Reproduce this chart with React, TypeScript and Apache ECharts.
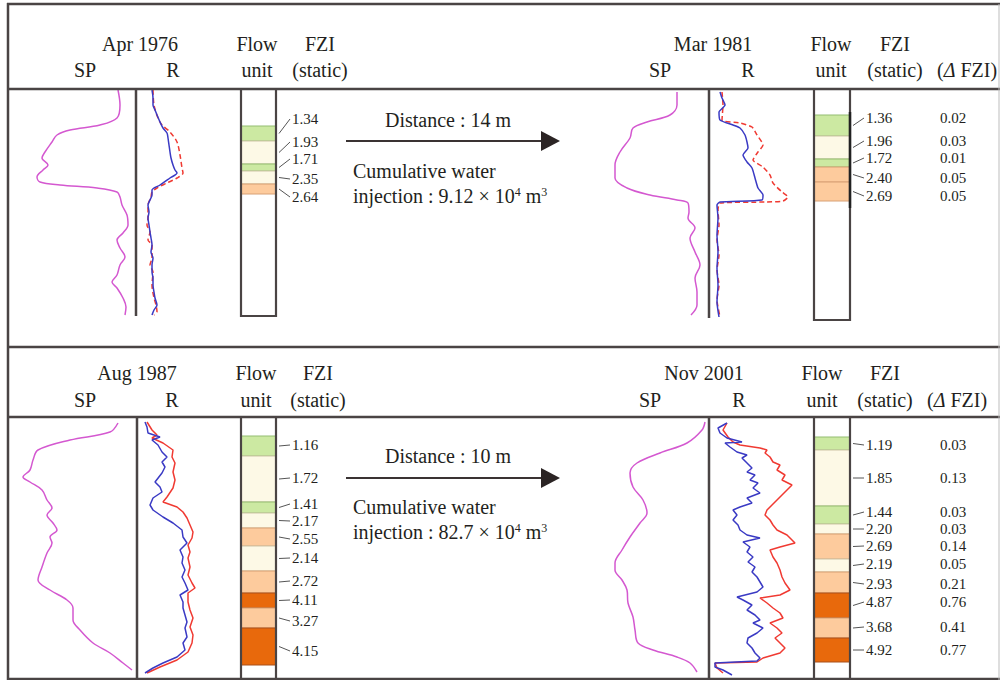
import React, { useEffect, useRef } from "react";
import * as echarts from "echarts";

// ---------------- data (depth, reading) pairs ----------------
// SP: deflection to the left of the track line; R: deflection to the right; depth: downwards
const spApr1976 = [[0,18],[15,16],[28,19],[35,36],[40,66],[45,79],[52,84],[62,91],[68,94],[75,88],[80,93],[87,99],[92,96],[95,76],[98,39],[102,19],[107,16],[115,14],[125,9],[135,8],[143,13],[150,19],[158,16],[167,11],[175,16],[185,19],[192,24],[198,19],[208,13],[217,10],[225,11]];
const rBlueApr1976 = [[0,16],[8,17],[15,17],[20,19],[25,21],[32,24],[38,27],[43,31],[48,32],[55,33],[62,34],[68,35],[75,37],[80,39],[83,41],[88,34],[95,24],[100,16],[105,16],[110,14],[115,12],[122,13],[128,12],[135,13],[142,14],[148,15],[155,16],[162,15],[168,17],[175,16],[182,16],[188,17],[195,17],[202,18],[208,19],[215,21],[220,18],[225,16]];
const rRedApr1976 = [[0,17],[15,18],[28,22],[35,26],[42,34],[52,41],[65,44],[78,46],[83,47],[88,41],[93,31],[98,21],[102,16],[107,15],[115,12],[128,12],[135,11],[142,14],[150,12],[155,16],[168,16],[175,14],[182,17],[195,16],[208,18],[215,20],[222,21],[225,18]];

const spMar1981 = [[2,32],[15,32],[25,39],[32,62],[38,76],[48,79],[62,89],[75,94],[88,94],[98,82],[105,59],[110,32],[113,21],[122,20],[128,21],[138,14],[148,19],[162,14],[175,9],[188,14],[202,12],[215,12],[225,18]];
const rBlueMar1981 = [[2,11],[8,13],[15,16],[22,10],[30,11],[35,24],[38,31],[45,36],[52,38],[58,39],[65,34],[72,38],[78,43],[88,46],[98,49],[105,54],[110,53],[112,11],[115,8],[128,9],[145,8],[162,9],[178,8],[195,9],[212,8],[227,10]];
const rRedMar1981 = [[2,13],[15,14],[30,13],[33,31],[37,43],[45,48],[55,54],[62,49],[70,44],[77,54],[85,61],[93,64],[102,73],[107,79],[111,74],[112,58],[113,11],[120,9],[135,10],[150,8],[165,10],[180,8],[195,10],[210,8],[227,11]];

const spAug1987 = [[6,19],[15,27],[23,67],[33,99],[43,104],[53,107],[60,114],[65,107],[73,95],[83,90],[91,85],[98,90],[106,84],[113,80],[120,87],[126,85],[136,90],[150,95],[163,99],[173,87],[183,70],[191,64],[203,64],[213,57],[226,44],[236,27],[246,14],[253,5]];
const rBlueAug1987 = [[5,8],[10,10],[16,11],[20,23],[23,15],[28,21],[35,25],[40,30],[45,25],[50,28],[56,25],[65,18],[70,23],[75,25],[81,16],[88,13],[93,16],[100,26],[106,36],[113,45],[120,46],[126,50],[133,43],[140,46],[146,45],[153,48],[160,45],[166,48],[173,51],[178,43],[185,46],[191,46],[198,48],[205,50],[211,48],[220,50],[226,46],[233,48],[240,40],[246,26],[251,16],[256,8]];
const rRedAug1987 = [[5,10],[13,15],[18,20],[21,15],[26,26],[33,36],[40,35],[46,38],[55,36],[63,38],[71,36],[80,30],[85,26],[90,40],[95,46],[101,50],[108,53],[115,56],[121,55],[128,51],[135,53],[141,51],[150,53],[158,51],[166,55],[171,58],[176,51],[185,51],[193,53],[201,56],[210,53],[218,56],[226,55],[235,51],[243,40],[250,23],[256,10]];

const spNov2001 = [[5,4],[13,7],[26,22],[36,49],[46,72],[56,79],[70,76],[83,66],[96,62],[106,69],[120,79],[133,87],[146,94],[153,94],[163,87],[173,82],[186,81],[200,76],[213,74],[226,71],[233,56],[240,32],[246,19],[255,12]];
const rBlueNov2001 = [[6,18],[11,9],[16,11],[21,18],[25,33],[26,16],[30,21],[35,28],[38,38],[41,33],[46,38],[51,43],[55,38],[58,46],[63,41],[66,49],[71,44],[76,51],[81,38],[86,43],[90,31],[93,24],[98,28],[103,24],[108,29],[113,31],[118,38],[121,51],[125,34],[130,41],[135,38],[140,44],[145,39],[150,46],[155,43],[160,48],[165,51],[170,54],[175,48],[180,28],[183,34],[188,43],[193,38],[198,46],[203,51],[206,44],[211,54],[216,48],[221,39],[226,38],[231,43],[236,46],[241,51],[244,48],[246,6],[250,6],[253,14],[258,23]];
const rRedNov2001 = [[6,18],[13,14],[20,19],[25,24],[28,31],[31,51],[33,58],[36,56],[40,61],[45,64],[48,71],[53,68],[58,76],[63,73],[68,83],[73,78],[78,73],[83,68],[88,63],[93,58],[98,56],[103,61],[108,64],[113,68],[118,78],[123,83],[126,86],[130,71],[133,61],[140,64],[146,68],[153,71],[160,73],[166,76],[173,81],[178,71],[181,51],[186,58],[191,64],[196,71],[201,74],[206,61],[211,68],[216,73],[221,66],[226,71],[231,76],[236,71],[241,54],[245,48],[246,6],[251,8],[256,14]];

// flow units: top depth, base depth, class, FZI (static), delta FZI
const unitTopApr1976 = [36, 51, 74, 81, 94];
const unitBaseApr1976 = [51, 74, 81, 94, 104];
const unitClassApr1976 = ["g", "c", "g", "c", "o"];
const fziApr1976 = ["1.34", "1.93", "1.71", "2.35", "2.64"];

const unitTopMar1981 = [25, 46, 69, 77, 92];
const unitBaseMar1981 = [46, 69, 77, 92, 111];
const unitClassMar1981 = ["g", "c", "g", "o", "o"];
const fziMar1981 = ["1.36", "1.96", "1.72", "2.40", "2.69"];
const dFziMar1981 = ["0.02", "0.03", "0.01", "0.05", "0.05"];

const unitTopAug1987 = [19, 39, 85, 96, 111, 129, 154, 176, 191, 211];
const unitBaseAug1987 = [39, 85, 96, 111, 129, 154, 176, 191, 211, 248];
const unitClassAug1987 = ["g", "c", "g", "c", "o", "c", "o", "d", "o", "d"];
const fziAug1987 = ["1.16", "1.72", "1.41", "2.17", "2.55", "2.14", "2.72", "4.11", "3.27", "4.15"];

const unitTopNov2001 = [20, 33, 89, 107, 117, 142, 155, 176, 201, 221];
const unitBaseNov2001 = [33, 89, 107, 117, 142, 155, 176, 201, 221, 245];
const unitClassNov2001 = ["g", "c", "g", "c", "o", "c", "o", "d", "o", "d"];
const fziNov2001 = ["1.19", "1.85", "1.44", "2.20", "2.69", "2.19", "2.93", "4.87", "3.68", "4.92"];
const dFziNov2001 = ["0.03", "0.13", "0.03", "0.03", "0.14", "0.05", "0.21", "0.76", "0.41", "0.77"];

// label anchor depths (layout of the annotation column)
const labelDepthApr1976 = [29, 52, 69, 89, 107];
const labelDepthMar1981 = [28, 51, 68, 88, 106];
const labelDepthAug1987 = [28, 61, 87, 104, 122, 141, 164, 183, 204, 234];
const labelDepthNov2001 = [28, 61, 95, 112, 129, 147, 167, 185, 210, 233];

// ---------------- styling ----------------
const FONT = "'Liberation Serif', 'DejaVu Serif', serif";
const INK = "#231f20";
const FRAME = "#4a4444";
const SP_COLOR = "#d458d0";
const BLUE = "#3a3ac4";
const RED = "#f03a32";
const NUM_SIZE = 15;
const UNIT_STYLE: Record<string, { fill: string; stroke: string }> = {
  g: { fill: "#cce9a2", stroke: "#93bd70" },
  c: { fill: "#fdf9e6", stroke: "#cfc6a6" },
  o: { fill: "#fdcb9d", stroke: "#d8a074" },
  d: { fill: "#e8690c", stroke: "#a9501a" },
};

function buildOption() {
  const grids: any[] = [];
  const xAxes: any[] = [];
  const yAxes: any[] = [];
  const series: any[] = [];
  const graphic: any[] = [];

  function addGrid(left: number, width: number, top: number, height: number, xmax: number, inverse: boolean) {
    const idx = grids.length;
    grids.push({ left, width, top, height, containLabel: false, show: false });
    xAxes.push({ type: "value", gridIndex: idx, min: 0, max: xmax, inverse, show: false });
    yAxes.push({ type: "value", gridIndex: idx, min: 0, max: height, inverse: true, show: false });
    return idx;
  }

  function addLine(g: number, pairs: number[][], color: string, dashed: boolean, smooth: number) {
    series.push({
      type: "line",
      xAxisIndex: g,
      yAxisIndex: g,
      data: pairs.map(([d, v]) => [v, d]),
      showSymbol: false,
      symbol: "none",
      smooth,
      clip: false,
      silent: true,
      lineStyle: { color, width: 1.5, type: dashed ? [5, 3] : "solid" },
    });
  }

  function txt(text: string, x: number, y: number, size: number, align = "center", extra: any = {}) {
    graphic.push({
      type: "text",
      x,
      y,
      z: 50,
      silent: true,
      style: {
        text,
        fontFamily: FONT,
        fontSize: size,
        fill: INK,
        align,
        textAlign: align,
        verticalAlign: "middle",
        textVerticalAlign: "middle",
        ...extra,
      },
    });
  }

  function hline(x1: number, x2: number, y: number, w = 2.5, color = FRAME) {
    graphic.push({ type: "line", z: 40, silent: true, shape: { x1, y1: y, x2, y2: y }, style: { stroke: color, lineWidth: w } });
  }
  function vline(x: number, y1: number, y2: number, w = 2.5, color = FRAME) {
    graphic.push({ type: "line", z: 40, silent: true, shape: { x1: x, y1, x2: x, y2 }, style: { stroke: color, lineWidth: w } });
  }

  function addPanel(p: any) {
    const spG = addGrid(p.spLeft, p.sep - p.spLeft, p.top, p.h, p.sep - p.spLeft, true);
    const rG = addGrid(p.sep, 100, p.top, p.h, 100, false);
    const fG = addGrid(p.colLeft, p.colW, p.top, p.h, 1, false);
    addLine(spG, p.sp, SP_COLOR, false, 0.35);
    addLine(rG, p.rRed, RED, p.dashed, p.smoothR);
    addLine(rG, p.rBlue, BLUE, false, p.smoothR);

    const tops = p.tops, bases = p.bases, cls = p.cls, fzi = p.fzi, ld = p.ld, dl = p.delta;
    series.push({
      type: "custom",
      xAxisIndex: fG,
      yAxisIndex: fG,
      clip: false,
      silent: true,
      z: 3,
      data: tops.map((t: number, i: number) => [t, bases[i], i]),
      renderItem: (_params: any, api: any) => {
        const i = api.value(2);
        const p0 = api.coord([0, api.value(0)]);
        const p1 = api.coord([1, api.value(1)]);
        const ly = api.coord([0, ld[i]])[1];
        const right = p1[0];
        const mid = (p0[1] + p1[1]) / 2;
        const st = UNIT_STYLE[cls[i]];
        const children: any[] = [
          {
            type: "rect",
            shape: { x: p0[0], y: p0[1], width: p1[0] - p0[0], height: p1[1] - p0[1] },
            style: { fill: st.fill, stroke: st.stroke, lineWidth: 1 },
          },
          {
            type: "line",
            shape: { x1: right + 3, y1: mid, x2: right + 14, y2: ly },
            style: { stroke: "#555", lineWidth: 1 },
          },
          {
            type: "text",
            x: right + 16,
            y: ly,
            style: { text: fzi[i], fontFamily: FONT, fontSize: NUM_SIZE, fill: INK, align: "left", textAlign: "left", verticalAlign: "middle", textVerticalAlign: "middle" },
          },
        ];
        if (dl) {
          children.push({
            type: "text",
            x: right + 103,
            y: ly,
            style: { text: dl[i], fontFamily: FONT, fontSize: NUM_SIZE, fill: INK, align: "center", textAlign: "center", verticalAlign: "middle", textVerticalAlign: "middle" },
          });
        }
        return { type: "group", children };
      },
    });

    // column outline & track line
    graphic.push({
      type: "rect",
      z: 40,
      silent: true,
      shape: { x: p.colLeft, y: p.hdrY, width: p.colW, height: p.colBottom - p.hdrY },
      style: { fill: "none", stroke: FRAME, lineWidth: 2.2 },
    });
    vline(p.sep, p.hdrY, p.sepBottom, 2.5);

    // headers
    txt(p.title, p.titleX, p.l1, 20);
    txt("SP", p.spX, p.l2, 20);
    txt("R", p.rX, p.l2, 20);
    txt("Flow", p.flowX, p.l1, 20);
    txt("unit", p.flowX, p.l2, 20);
    txt("FZI", p.fziX, p.l1, 20);
    txt("(static)", p.fziX, p.l2, 20);
    if (p.dX) {
      txt("({i|Δ} FZI)", p.dX, p.l2, 20, "center", {
        rich: { i: { fontFamily: FONT, fontSize: 20, fontStyle: "italic", fill: INK } },
      });
    }
  }

  addPanel({
    spLeft: 20, sep: 136, top: 90, h: 228, colLeft: 241, colW: 35, hdrY: 89, colBottom: 316, sepBottom: 316,
    sp: spApr1976, rBlue: rBlueApr1976, rRed: rRedApr1976, dashed: true, smoothR: 0.3,
    tops: unitTopApr1976, bases: unitBaseApr1976, cls: unitClassApr1976, fzi: fziApr1976, ld: labelDepthApr1976,
    title: "Apr 1976", titleX: 140, spX: 85, rX: 173, flowX: 257, fziX: 320, l1: 44, l2: 70,
  });
  addPanel({
    spLeft: 600, sep: 709, top: 90, h: 228, colLeft: 814, colW: 36, hdrY: 89, colBottom: 320, sepBottom: 318,
    sp: spMar1981, rBlue: rBlueMar1981, rRed: rRedMar1981, dashed: true, smoothR: 0.2,
    tops: unitTopMar1981, bases: unitBaseMar1981, cls: unitClassMar1981, fzi: fziMar1981, ld: labelDepthMar1981, delta: dFziMar1981,
    title: "Mar 1981", titleX: 713, spX: 660, rX: 748, flowX: 831, fziX: 895, dX: 967, l1: 44, l2: 70,
  });
  addPanel({
    spLeft: 15, sep: 137, top: 417, h: 263, colLeft: 241, colW: 35, hdrY: 417, colBottom: 682, sepBottom: 680,
    sp: spAug1987, rBlue: rBlueAug1987, rRed: rRedAug1987, dashed: false, smoothR: 0,
    tops: unitTopAug1987, bases: unitBaseAug1987, cls: unitClassAug1987, fzi: fziAug1987, ld: labelDepthAug1987,
    title: "Aug 1987", titleX: 137, spX: 85, rX: 172, flowX: 256, fziX: 318, l1: 373, l2: 400,
  });
  addPanel({
    spLeft: 600, sep: 709, top: 417, h: 263, colLeft: 814, colW: 36, hdrY: 417, colBottom: 682, sepBottom: 680,
    sp: spNov2001, rBlue: rBlueNov2001, rRed: rRedNov2001, dashed: false, smoothR: 0,
    tops: unitTopNov2001, bases: unitBaseNov2001, cls: unitClassNov2001, fzi: fziNov2001, ld: labelDepthNov2001, delta: dFziNov2001,
    title: "Nov 2001", titleX: 704, spX: 650, rX: 739, flowX: 822, fziX: 885, dX: 957, l1: 373, l2: 400,
  });

  // bracket on the right edge of the Mar 1981 column
  vline(850, 112, 208, 2.5, "#222");

  // frame
  hline(7, 1000, 4);
  hline(7, 1000, 89);
  hline(7, 1000, 347);
  hline(7, 1000, 417);
  hline(7, 1000, 679);
  vline(8, 3, 680);
  vline(999, 4, 680, 1, "#bdbdbd");

  // arrows and well-pair annotation
  const arrows = [
    { y: 141, dist: "Distance : 14 m", inj: "9.12", dy: 120, c1: 171, c2: 196 },
    { y: 478, dist: "Distance : 10 m", inj: "82.7", dy: 456, c1: 507, c2: 532 },
  ];
  arrows.forEach((a) => {
    hline(346, 545, a.y, 2.2, "#3a3333");
    graphic.push({
      type: "polygon",
      z: 40,
      silent: true,
      shape: { points: [[541, a.y - 10], [560, a.y], [541, a.y + 10]] },
      style: { fill: "#2b2424" },
    });
    txt(a.dist, 385, a.dy, 20, "left");
    txt("Cumulative water", 353, a.c1, 20, "left");
    txt(`injection : ${a.inj} × 10{s|4} m{s|3}`, 353, a.c2, 20, "left", {
      rich: { s: { fontFamily: FONT, fontSize: 12, fill: INK, verticalAlign: "top" } },
    });
  });

  return {
    animation: false,
    backgroundColor: "#ffffff",
    grid: grids,
    xAxis: xAxes,
    yAxis: yAxes,
    series,
    graphic,
  };
}

export default function App() {
  const ref = useRef<HTMLDivElement>(null);
  useEffect(() => {
    document.body.style.margin = "0";
    const chart = echarts.init(ref.current!, null, { renderer: "svg" });
    chart.setOption(buildOption() as any);
    return () => chart.dispose();
  }, []);
  return <div ref={ref} style={{ width: 1000, height: 680 }} />;
}
